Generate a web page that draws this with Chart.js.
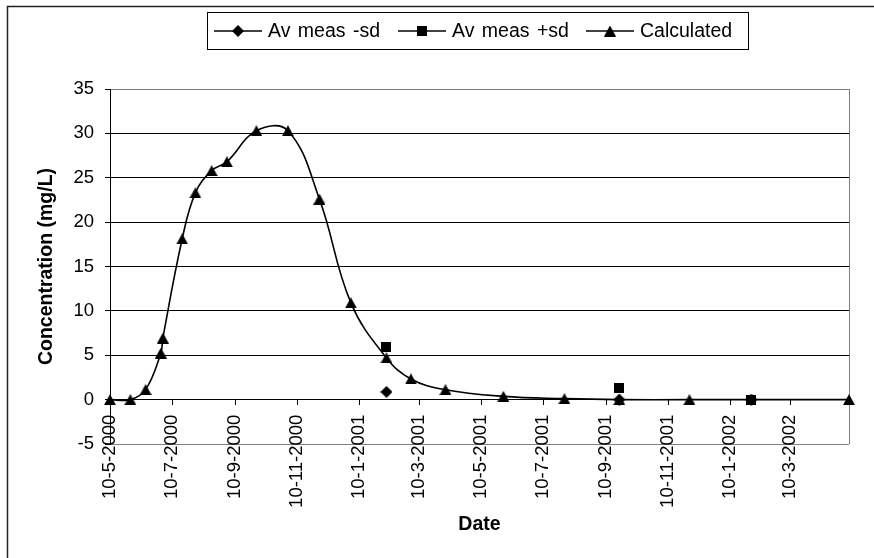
<!DOCTYPE html>
<html>
<head>
<meta charset="utf-8">
<script src="https://cdn.jsdelivr.net/npm/chart.js@4.4.0/dist/chart.umd.min.js"></script>
<style>
  html, body { margin: 0; padding: 0; background: #fff; }
</style>
</head>
<body>
<canvas id="chart" width="874" height="558"></canvas>
<script>
// dates written d-m-yyyy, same as the spreadsheet axis
const tickLabels = ['10-5-2000', '10-7-2000', '10-9-2000', '10-11-2000', '10-1-2001', '10-3-2001',
  '10-5-2001', '10-7-2001', '10-9-2001', '10-11-2001', '10-1-2002', '10-3-2002'];
const axisStart = '10-5-2000';
const axisEnd = '7-5-2002';

// calculated concentration (mg/L)
const calcDates = ['10-5-2000', '30-5-2000', '14-6-2000', '29-6-2000', '1-7-2000', '20-7-2000', '2-8-2000',
  '18-8-2000', '2-9-2000', '1-10-2000', '1-11-2000', '2-12-2000', '2-1-2001', '6-2-2001', '2-3-2001',
  '5-4-2001', '1-6-2001', '31-7-2001', '23-9-2001', '1-12-2001', '7-5-2002'];
const calcValues = [0, 0, 1.13, 5.25, 6.94, 18.1, 23.3, 25.8, 26.8, 30.3, 30.3, 22.6, 10.9, 4.7, 2.33,
  1.12, 0.37, 0.11, 0, 0, 0];

// measured averages minus / plus one sd
const measDates = ['6-2-2001', '23-9-2001', '31-1-2002'];
const measMinusSd = [0.87, 0, 0];
const measPlusSd = [5.93, 1.3, 0];

const FONT = '"Liberation Sans", Arial, sans-serif';

// days since the start of the axis
function dayNum(s) {
  const [d, m, y] = s.split('-').map(Number);
  const [d0, m0, y0] = axisStart.split('-').map(Number);
  return (Date.UTC(y, m - 1, d) - Date.UTC(y0, m0 - 1, d0)) / 864e5;
}

// excel style markers
function marker(kind) {
  const c = document.createElement('canvas');
  const w = kind === 'square' ? 10 : 12;
  const h = kind === 'triangle' ? 11 : (kind === 'square' ? 10 : 12);
  c.width = w; c.height = h;
  const g = c.getContext('2d');
  g.fillStyle = '#000';
  g.beginPath();
  if (kind === 'triangle') {
    g.moveTo(w / 2, 0); g.lineTo(w, h); g.lineTo(0, h);
  } else if (kind === 'diamond') {
    g.moveTo(w / 2, 0); g.lineTo(w, h / 2); g.lineTo(w / 2, h); g.lineTo(0, h / 2);
  } else {
    g.rect(0, 0, w, h);
  }
  g.closePath();
  g.fill();
  return c;
}
const triImg = marker('triangle');
const sqImg = marker('square');
const diaImg = marker('diamond');

const toPoints = (dates, vals) => dates.map((d, i) => ({ x: dayNum(d), y: vals[i] }));

const legendItems = [
  { text: 'Av meas -sd', img: diaImg, x: 214 },
  { text: 'Av meas +sd', img: sqImg, x: 398 },
  { text: 'Calculated', img: triImg, x: 586 }
];

// frame, plot border and the boxed legend
const extras = {
  id: 'extras',
  beforeDatasetsDraw(chart) {
    const { ctx, chartArea } = chart;
    ctx.save();
    ctx.strokeStyle = '#808080';
    ctx.lineWidth = 1;
    ctx.beginPath();
    ctx.moveTo(Math.round(chartArea.right) + 0.5, chartArea.top);
    ctx.lineTo(Math.round(chartArea.right) + 0.5, chartArea.bottom);
    ctx.stroke();
    ctx.restore();
  },
  afterDraw(chart) {
    const ctx = chart.ctx;
    ctx.save();
    // outer chart frame
    ctx.strokeStyle = '#222';
    ctx.lineWidth = 1.5;
    ctx.beginPath();
    ctx.moveTo(874, 6.5);
    ctx.lineTo(7.5, 6.5);
    ctx.lineTo(7.5, 558);
    ctx.stroke();
    // legend box
    ctx.lineWidth = 1;
    ctx.strokeStyle = '#000';
    ctx.fillStyle = '#fff';
    ctx.fillRect(207.5, 12.5, 541, 37);
    ctx.strokeRect(207.5, 12.5, 541, 37);
    const cy = 31;
    ctx.font = '19.5px ' + FONT;
    ctx.textBaseline = 'middle';
    ctx.fillStyle = '#000';
    try { ctx.wordSpacing = '2px'; } catch (e) {}
    legendItems.forEach(it => {
      ctx.beginPath();
      ctx.lineWidth = 1.6;
      ctx.moveTo(it.x, cy);
      ctx.lineTo(it.x + 48, cy);
      ctx.stroke();
      ctx.drawImage(it.img, it.x + 24 - it.img.width / 2, cy - it.img.height / 2);
      ctx.fillText(it.text, it.x + 54, cy + 1);
    });
    ctx.restore();
  }
};

new Chart(document.getElementById('chart'), {
  type: 'line',
  data: {
    datasets: [
      {
        label: 'Calculated',
        data: toPoints(calcDates, calcValues),
        borderColor: '#000',
        borderWidth: 1.6,
        tension: 0.4,
        pointStyle: triImg,
        pointRadius: 6,
        clip: false,
        order: 0
      },
      {
        label: 'Av meas +sd',
        data: toPoints(measDates, measPlusSd),
        showLine: false,
        pointStyle: sqImg,
        pointRadius: 5,
        clip: false,
        order: 1
      },
      {
        label: 'Av meas -sd',
        data: toPoints(measDates, measMinusSd),
        showLine: false,
        pointStyle: diaImg,
        pointRadius: 6,
        clip: false,
        order: 2
      }
    ]
  },
  options: {
    responsive: false,
    animation: false,
    devicePixelRatio: 1,
    layout: { padding: { left: 7, top: 89, right: 25, bottom: 114 } },
    plugins: { legend: { display: false }, tooltip: { enabled: false } },
    scales: {
      x: {
        type: 'linear',
        position: { y: 0 },
        min: 0,
        max: dayNum(axisEnd),
        afterBuildTicks: s => { s.ticks = tickLabels.map(t => ({ value: dayNum(t) })); },
        ticks: {
          autoSkip: false,
          minRotation: 90,
          maxRotation: 90,
          padding: 10,
          color: '#000',
          font: { family: FONT, size: 18.5 },
          callback: (v, i) => tickLabels[i]
        },
        grid: { drawOnChartArea: false, drawTicks: true, tickLength: 5, tickColor: '#000' },
        border: { color: '#000', width: 1 },
        title: {
          display: true, text: 'Date', color: '#000',
          font: { family: FONT, size: 19.5, weight: 'bold' },
          padding: { top: -5, bottom: 0 }
        }
      },
      y: {
        min: -5,
        max: 35,
        afterFit: s => { s.width = 103; },
        ticks: { stepSize: 5, padding: 11, color: '#000', font: { family: FONT, size: 18.5 } },
        grid: {
          color: c => (c.tick && (c.tick.value === 35 || c.tick.value === -5)) ? '#808080' : '#000',
          tickLength: 5,
          tickColor: '#000'
        },
        border: { color: '#000', width: 1 },
        title: {
          display: true, text: 'Concentration (mg/L)', color: '#000',
          font: { family: FONT, size: 19.5, weight: 'bold' },
          padding: { top: 28, bottom: 0 }
        }
      }
    }
  },
  plugins: [extras]
});
</script>
</body>
</html>
